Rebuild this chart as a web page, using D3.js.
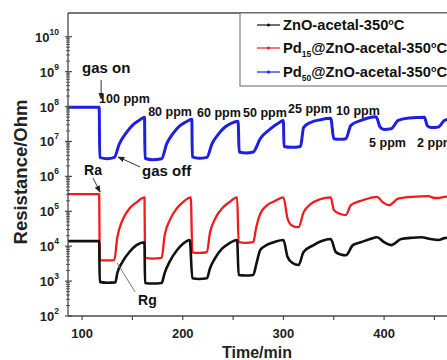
<!DOCTYPE html>
<html><head><meta charset="utf-8">
<script src="https://cdn.jsdelivr.net/npm/d3@7"></script>
<style>
body{margin:0;background:#fff}
svg{display:block;font-family:"Liberation Sans",Arial,sans-serif;font-weight:bold}
</style>
</head><body>
<svg id="chart" width="447" height="360"></svg>
<script>
// ---------------- data ----------------
const seriesNames = ["ZnO-acetal-350", "Pd15@ZnO-acetal-350", "Pd50@ZnO-acetal-350"];
const seriesColors = ["#111111", "#ee1c1c", "#1f1fe0"];

const znoTime = [86,117,117.5,125,133,135,140,147,154,162,
  162.5,170,179,182,187,194,200,207,
  209.5,216,224,227,232,239,246,254,
  255.5,262,270,273,277,284,292,300,
  304,309,315,320,330,338,347,
  352,357,362,369,377,386,393,
  400,407,417,428,437,446,454,460,470];
const znoRes = [1.4e4,1.4e4,9.5e2,9.0e2,9.2e2,1.7e3,3.5e3,6.8e3,1.07e4,1.3e4,
  8.8e2,8.5e2,8.8e2,1.7e3,3.6e3,7.5e3,1.15e4,1.5e4,
  1.2e3,1.15e3,1.2e3,2.3e3,4.5e3,8.5e3,1.2e4,1.5e4,
  1.5e3,1.45e3,1.5e3,3.0e3,7.8e3,1.1e4,1.35e4,1.5e4,
  5.0e3,3.3e3,2.9e3,6.8e3,1.07e4,1.4e4,1.6e4,
  6.8e3,5.8e3,5.5e3,1.07e4,1.3e4,1.6e4,1.8e4,
  1.3e4,1.07e4,1.6e4,1.75e4,1.8e4,1.6e4,1.5e4,1.7e4,1.8e4];

const pd15Time = [86,117,117.5,125,132,135,140,147,154,162,
  162.5,170,179,182,187,194,200,208,
  209.5,216,224,227,232,239,246,254,
  255.5,262,270,273,277,284,292,300,
  304,308,315,320,327,336,347,
  350,356,362,367,377,386,393,
  398,405,414,428,444,450,454,460,470];
const pd15Res = [3.1e5,3.1e5,4.0e3,3.9e3,4.0e3,1.8e4,5.5e4,1.2e5,1.8e5,2.5e5,
  4.6e3,4.4e3,4.6e3,2.0e4,5.5e4,1.2e5,1.8e5,2.5e5,
  6.7e3,6.4e3,6.7e3,2.4e4,6.0e4,1.2e5,1.8e5,2.5e5,
  1.3e4,1.25e4,1.3e4,3.5e4,8.5e4,1.5e5,2.0e5,2.5e5,
  6.3e4,4.0e4,3.5e4,9.3e4,1.6e5,2.2e5,2.5e5,
  1.1e5,8.5e4,7.8e4,1.5e5,2.0e5,2.4e5,2.6e5,
  1.9e5,1.5e5,2.3e5,2.6e5,2.7e5,2.4e5,2.4e5,2.6e5,2.7e5];

const pd50Time = [86,117,117.5,125,132,137,144,150,156,162,
  162.5,170,179,184,191,197,203,209,
  209.5,216,224,229,236,242,248,255,
  256,263,270,277,287,294,300,
  300.5,308,317,320,327,337,347,
  350,356,362,367,377,385,392,
  396,400,407,414,425,440,
  443,447,454,460,470];
const pd50Res = [9.5e7,9.5e7,3.5e6,3.2e6,3.5e6,8.5e6,1.8e7,2.9e7,3.9e7,4.9e7,
  3.3e6,3.0e6,3.2e6,8.5e6,1.8e7,2.8e7,3.6e7,4.3e7,
  3.6e6,3.3e6,3.5e6,8.5e6,1.7e7,2.6e7,3.3e7,3.8e7,
  5.0e6,4.7e6,5.0e6,1.2e7,2.3e7,3.2e7,4.0e7,
  7.2e6,6.8e6,7.2e6,2.5e7,3.5e7,4.2e7,4.6e7,
  1.2e7,1.15e7,1.2e7,2.9e7,4.0e7,4.8e7,5.1e7,
  2.6e7,2.2e7,2.3e7,4.0e7,4.7e7,4.9e7,
  2.8e7,2.5e7,2.6e7,4.0e7,4.6e7];

const xMajorTicks = [100, 200, 300, 400];
const xMinorTicks = [150, 250, 350, 450];
const yExponents = [2,3,4,5,6,7,8,9,10];

// concentration labels: text, time, resistance of the label's baseline
const ppmLabels = ["100 ppm","80 ppm","60 ppm","50 ppm","25 ppm","10 ppm","5 ppm","2 ppm"];
const ppmTime   = [116.9, 165.6, 214.2, 259.9, 304.6, 352.3, 385.1, 432.8];
const ppmRes    = [1.3e8, 5.2e7, 4.9e7, 4.9e7, 6.7e7, 5.6e7, 6.8e6, 6.8e6];

// ---------------- layout ----------------
const svg = d3.select("#chart");
const mLeft = 68, mTop = 13, mBottom = 316;
const x = d3.scaleLinear().domain([86, 470]).range([mLeft, mLeft + 384 * 1.0067]);
const y = d3.scaleLog().domain([1e2, Math.pow(10, 10.68)]).range([mBottom, mTop]);
const axisColor = "#4a4a4a";

const defs = svg.append("defs");
defs.append("clipPath").attr("id","plotclip")
  .append("rect").attr("x", mLeft).attr("y", mTop).attr("width", 447 - mLeft + 20).attr("height", mBottom - mTop);
defs.append("marker").attr("id","arrow").attr("viewBox","0 0 10 10").attr("refX",9).attr("refY",5)
  .attr("markerWidth",7).attr("markerHeight",7).attr("orient","auto-start-reverse")
  .append("path").attr("d","M0,1 L10,5 L0,9 z").attr("fill","#222");

// ---------------- series ----------------
const series = [
  {name: seriesNames[0], color: seriesColors[0], t: znoTime, r: znoRes, w: 2.6},
  {name: seriesNames[1], color: seriesColors[1], t: pd15Time, r: pd15Res, w: 2.3},
  {name: seriesNames[2], color: seriesColors[2], t: pd50Time, r: pd50Res, w: 3.0}
];
const line = d3.line().x(d => x(d[0])).y(d => y(d[1])).curve(d3.curveMonotoneX);
const plotG = svg.append("g").attr("clip-path","url(#plotclip)");
[1, 0, 2].forEach(i => {
  const s = series[i];
  plotG.append("path").datum(s.t.map((t, k) => [t, s.r[k]]))
    .attr("d", line).attr("fill","none").attr("stroke", s.color)
    .attr("stroke-width", s.w).attr("stroke-linejoin","round");
});

// ---------------- axes ----------------
const ax = svg.append("g");
ax.append("line").attr("x1", mLeft).attr("x2", mLeft).attr("y1", mTop).attr("y2", mBottom)
  .attr("stroke", axisColor).attr("stroke-width", 1.3);
ax.append("line").attr("x1", mLeft).attr("x2", 460).attr("y1", mBottom).attr("y2", mBottom)
  .attr("stroke", axisColor).attr("stroke-width", 1.3);
ax.append("line").attr("x1", mLeft).attr("x2", 460).attr("y1", mTop).attr("y2", mTop)
  .attr("stroke", axisColor).attr("stroke-width", 1.3);

xMajorTicks.concat(xMinorTicks).forEach(v => {
  ax.append("line").attr("x1", x(v)).attr("x2", x(v)).attr("y1", mBottom).attr("y2", mBottom + 4)
    .attr("stroke", axisColor).attr("stroke-width", 1.2);
});
xMajorTicks.forEach(v => {
  ax.append("text").attr("x", x(v)).attr("y", mBottom + 22).attr("text-anchor","middle")
    .attr("font-size", 13).attr("fill","#222").text(v);
});
ax.append("text").attr("x", 257).attr("y", 358).attr("text-anchor","middle")
  .attr("font-size", 16).attr("fill","#222").text("Time/min");

yExponents.forEach(e => {
  const v = Math.pow(10, e);
  ax.append("line").attr("x1", mLeft - 3).attr("x2", mLeft + 4).attr("y1", y(v)).attr("y2", y(v))
    .attr("stroke", axisColor).attr("stroke-width", 1.2);
  if (e < 10) {
    for (let m = 2; m <= 9; m++) {
      const mv = m * v;
      ax.append("line").attr("x1", mLeft - 2).attr("x2", mLeft + 2).attr("y1", y(mv)).attr("y2", y(mv))
        .attr("stroke", axisColor).attr("stroke-width", 0.9);
    }
  }
  const t = ax.append("text").attr("x", 59).attr("y", y(v) + 5).attr("text-anchor","end")
    .attr("fill","#222");
  t.append("tspan").attr("font-size", 13).text("10");
  t.append("tspan").attr("font-size", 8.5).attr("dy", -7).text(e);
});
svg.append("text").attr("transform","translate(27,172) rotate(-90)").attr("text-anchor","middle")
  .attr("font-size", 18.5).attr("fill","#222").text("Resistance/Ohm");

// ---------------- annotations ----------------
const ann = svg.append("g").attr("fill","#111");
ppmLabels.forEach((txt, i) => {
  ann.append("text").attr("x", x(ppmTime[i])).attr("y", y(ppmRes[i]))
    .attr("font-size", 12.5).text(txt);
});
ann.append("text").attr("x", x(100)).attr("y", y(9.1e8)).attr("font-size", 15).text("gas on");
ann.append("text").attr("x", x(159.6)).attr("y", y(1.0e6)).attr("font-size", 15).text("gas off");
ann.append("text").attr("x", x(102)).attr("y", y(1.1e6)).attr("font-size", 14).text("Ra");
ann.append("text").attr("x", x(155.6)).attr("y", y(2.07e2)).attr("font-size", 14).text("Rg");

function arrow(t1, r1, t2, r2, color, head) {
  svg.append("line").attr("x1", x(t1)).attr("y1", y(r1)).attr("x2", x(t2)).attr("y2", y(r2))
    .attr("stroke", color).attr("stroke-width", 1)
    .attr("marker-end", head ? "url(#arrow)" : null);
}
arrow(118.9, 5.8e8, 118.9, 1.66e8, "#333", true);
arrow(157.6, 1.86e6, 135.8, 3.6e6, "#333", true);
arrow(110.9, 8.9e5, 117.9, 3.55e5, "#333", true);
arrow(152.6, 4.9e2, 134.8, 3.3e3, "#777", false);

// ---------------- legend ----------------
const lg = svg.append("g");
lg.append("rect").attr("x", 240).attr("y", mTop).attr("width", 230).attr("height", 73)
  .attr("fill","#fff").attr("stroke","#666").attr("stroke-width", 1);
const rowY = [25, 48, 72];
series.forEach((s, i) => {
  lg.append("line").attr("x1", 257).attr("x2", 280).attr("y1", rowY[i]).attr("y2", rowY[i])
    .attr("stroke", s.color).attr("stroke-width", 1.2);
  lg.append("circle").attr("cx", 268.5).attr("cy", rowY[i]).attr("r", 1.6).attr("fill", s.color);
  const t = lg.append("text").attr("x", 283).attr("y", rowY[i] + 5).attr("font-size", 14.7)
    .attr("fill","#111");
  const m = s.name.match(/^Pd(\d+)(@.*)$/);
  if (m) {
    t.append("tspan").text("Pd");
    t.append("tspan").attr("font-size", 8.5).attr("dy", 4).text(m[1]);
    t.append("tspan").attr("dy", -4).text(m[2]);
  } else {
    t.append("tspan").text(s.name);
  }
  t.append("tspan").attr("font-size", 9).attr("dy", -5).text("o");
  t.append("tspan").attr("dy", 5).text("C");
});
</script>
</body></html>
